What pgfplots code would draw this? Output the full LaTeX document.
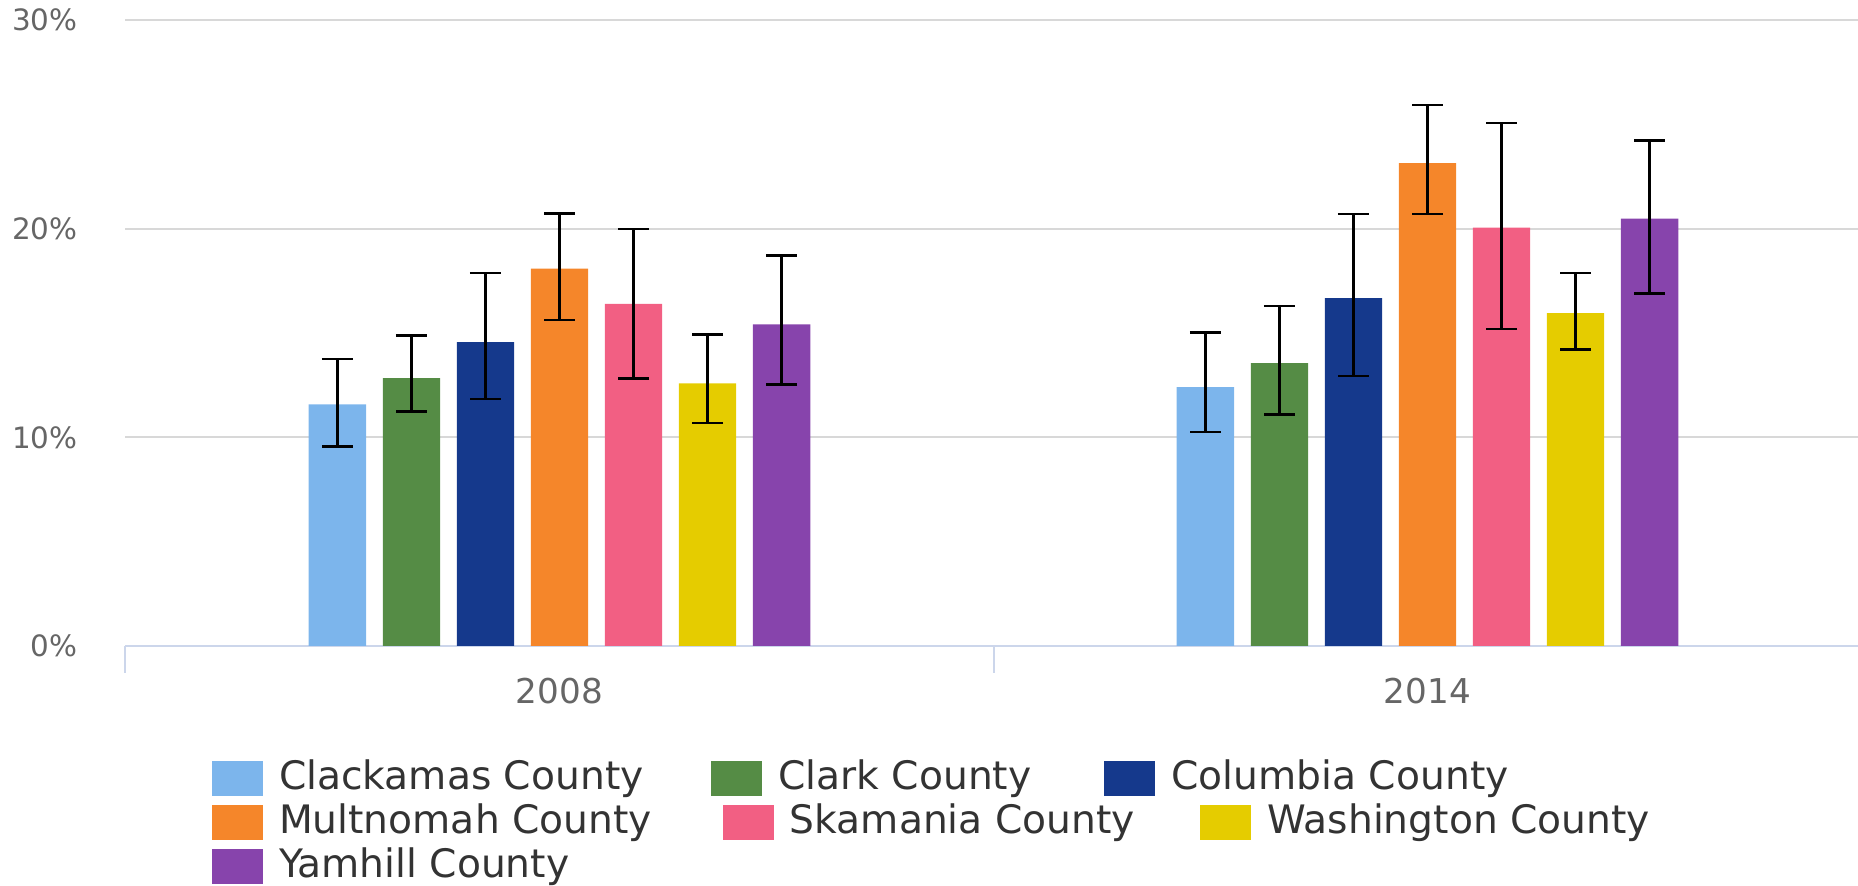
\documentclass[border=0pt]{standalone}
\usepackage{fontspec}
\setmainfont{DejaVu Sans}
\usepackage{pgfplots}
\pgfplotsset{compat=1.18}
\definecolor{cA}{HTML}{7CB5EC}
\definecolor{cB}{HTML}{558C45}
\definecolor{cC}{HTML}{15398C}
\definecolor{cD}{HTML}{F5862A}
\definecolor{cE}{HTML}{F25F83}
\definecolor{cF}{HTML}{E5CC00}
\definecolor{cG}{HTML}{8744AC}
\definecolor{axisc}{HTML}{CCD6EB}
\definecolor{gridc}{HTML}{D8D8D8}
\definecolor{tickc}{HTML}{666666}
\definecolor{legc}{HTML}{333333}
\pgfplotsset{
  errstyle/.style={error bars/.cd, y dir=both, y explicit,
    error bar style={black, line width=1.35pt},
    error mark options={rotate=90, black, line width=1.35pt, mark size=7.75pt}}
}
\begin{document}
\begin{tikzpicture}[x=1pt,y=1pt]
\path[use as bounding box] (0,0) rectangle (929,443);
\begin{axis}[
  at={(62.75pt,120pt)}, anchor=south west,
  scale only axis, width=868pt, height=313pt,
  xmin=-0.5, xmax=1.5, ymin=0, ymax=30,
  axis x line=bottom, axis y line=left,
  axis line style={-},
  x axis line style={draw=axisc, line width=1pt},
  y axis line style={draw=none},
  ybar, bar width=0.066,
  xtick={-0.5,0.5,1.5}, xticklabels={,,},
  tick align=outside, major tick length=13.5pt,
  xtick style={draw=axisc, line width=1pt},
  extra x ticks={0,1}, extra x tick labels={2008,2014},
  extra x tick style={major tick length=0pt, xtick style={draw=none},
    xticklabel style={anchor=center, yshift=-22.35pt, inner sep=0pt,
      font=\fontsize{17.1}{20}\selectfont, text=tickc}},
  ytick={0,10,20,30}, yticklabels={0\%,10\%,20\%,30\%},
  ytick style={draw=none},
  yticklabel style={anchor=east, inner sep=0pt, xshift=-10.35pt,
    font=\fontsize{14.7}{17}\selectfont, text=tickc},
  ymajorgrids, grid style={draw=gridc, line width=1.1pt},
  clip=false,
]
\addplot[fill=cA, draw=none, bar shift=-0.2559, errstyle] table[x=x,y=y,y error plus=ep,y error minus=em] {
x y ep em
0 11.58 2.17 2.02
1 12.41 2.60 2.16
};
\addplot[fill=cB, draw=none, bar shift=-0.1706, errstyle] table[x=x,y=y,y error plus=ep,y error minus=em] {
x y ep em
0 12.84 2.05 1.60
1 13.55 2.75 2.46
};
\addplot[fill=cC, draw=none, bar shift=-0.0853, errstyle] table[x=x,y=y,y error plus=ep,y error minus=em] {
x y ep em
0 14.56 3.31 2.73
1 16.67 4.03 3.73
};
\addplot[fill=cD, draw=none, bar shift=0, errstyle] table[x=x,y=y,y error plus=ep,y error minus=em] {
x y ep em
0 18.09 2.62 2.47
1 23.14 2.78 2.44
};
\addplot[fill=cE, draw=none, bar shift=0.0853, errstyle] table[x=x,y=y,y error plus=ep,y error minus=em] {
x y ep em
0 16.39 3.59 3.58
1 20.05 5.01 4.86
};
\addplot[fill=cF, draw=none, bar shift=0.1706, errstyle] table[x=x,y=y,y error plus=ep,y error minus=em] {
x y ep em
0 12.58 2.35 1.89
1 15.95 1.93 1.74
};
\addplot[fill=cG, draw=none, bar shift=0.2559, errstyle] table[x=x,y=y,y error plus=ep,y error minus=em] {
x y ep em
0 15.41 3.32 2.89
1 20.48 3.73 3.58
};
\end{axis}
% legend (flow layout as in the reference)
\tikzset{legbox/.style={fill=#1, draw=none, minimum width=25.5pt, minimum height=17.5pt, inner sep=0pt, anchor=west},
  legtext/.style={anchor=west, inner sep=0pt, text=legc, font=\fontsize{19.6}{23}\selectfont}}
% row 1
\node[legbox=cA] at (105.8,53.5) {};
\node[legtext] at (139.3,53.5) {Clackamas County};
\node[legbox=cB] at (355.5,53.5) {};
\node[legtext] at (389.0,53.5) {Clark County};
\node[legbox=cC] at (552.0,53.5) {};
\node[legtext] at (585.5,53.5) {Columbia County};
% row 2
\node[legbox=cD] at (105.8,31.5) {};
\node[legtext] at (139.3,31.5) {Multnomah County};
\node[legbox=cE] at (361.25,31.5) {};
\node[legtext] at (394.75,31.5) {Skamania County};
\node[legbox=cF] at (600.0,31.5) {};
\node[legtext] at (633.5,31.5) {Washington County};
% row 3
\node[legbox=cG] at (105.8,9.75) {};
\node[legtext] at (139.3,9.75) {Yamhill County};
\end{tikzpicture}
\end{document}
